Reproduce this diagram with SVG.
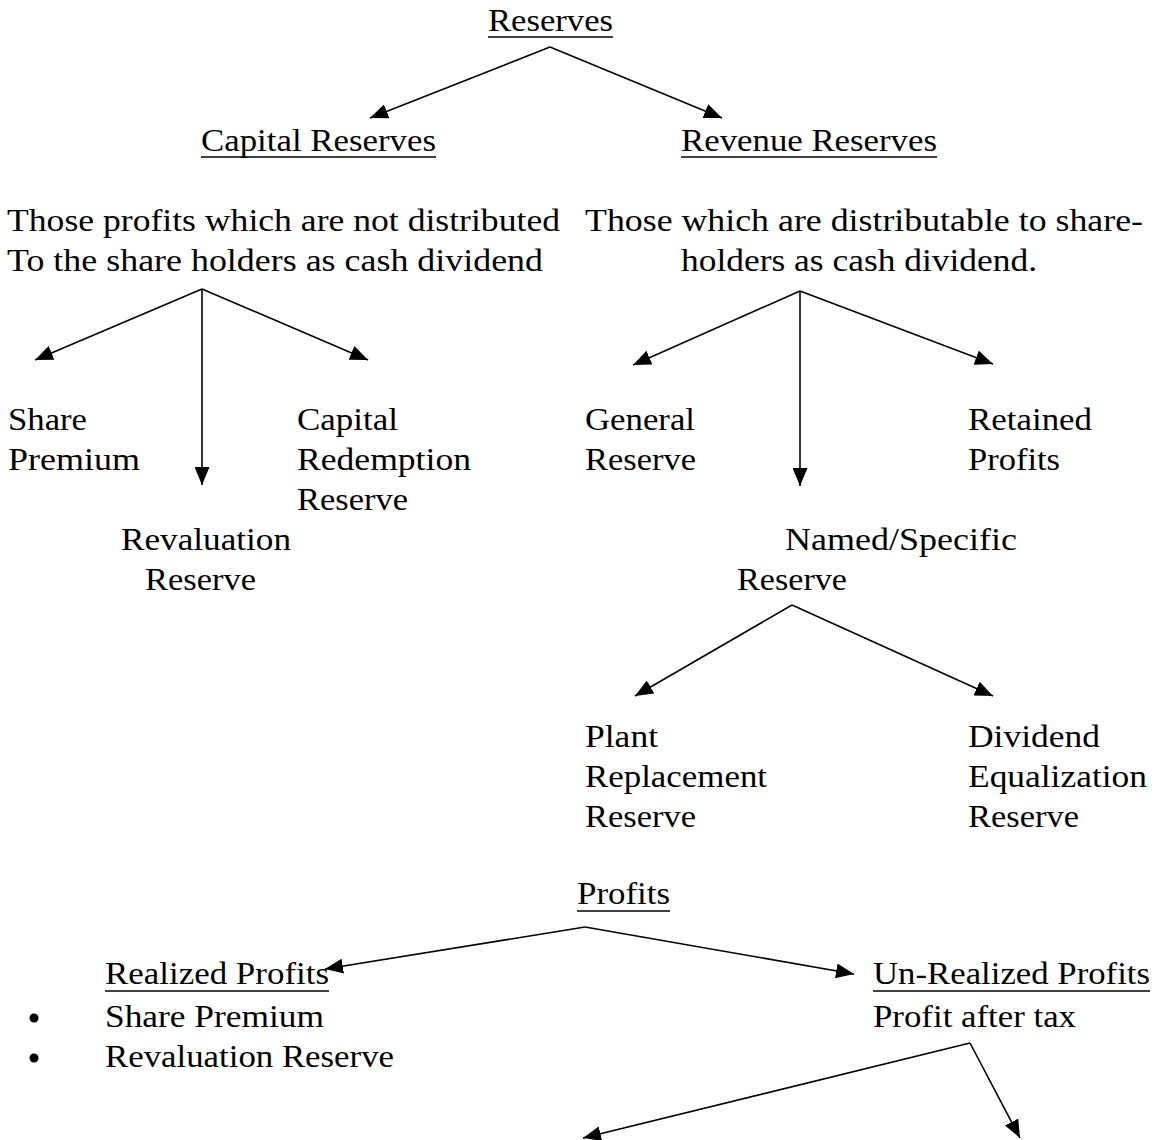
<svg xmlns="http://www.w3.org/2000/svg" width="1157" height="1140" viewBox="0 0 1157 1140">
<style>
text{font-family:"Liberation Serif","Times New Roman",serif;font-size:32px;fill:#000}
.c line{stroke:#000;stroke-width:1.6;fill:none}
.u{stroke:#000;stroke-width:1.6}
</style>
<defs>
<marker id="ah" markerUnits="userSpaceOnUse" markerWidth="19" markerHeight="15" refX="18" refY="7.5" orient="auto" viewBox="0 0 19 15">
<path d="M0,0 L18,7.5 L0,15 z" fill="#000"/>
</marker>
</defs>
<rect width="1157" height="1140" fill="#fff"/>
<g class="c" id="connectors">
<line x1="550" y1="47" x2="370" y2="118" marker-end="url(#ah)"/>
<line x1="550" y1="47" x2="722" y2="118" marker-end="url(#ah)"/>
<line x1="202" y1="289" x2="35" y2="360" marker-end="url(#ah)"/>
<line x1="202" y1="289" x2="202" y2="485" marker-end="url(#ah)"/>
<line x1="202" y1="289" x2="368" y2="360" marker-end="url(#ah)"/>
<line x1="800" y1="291" x2="633" y2="365" marker-end="url(#ah)"/>
<line x1="800" y1="291" x2="800" y2="486" marker-end="url(#ah)"/>
<line x1="800" y1="291" x2="993" y2="364" marker-end="url(#ah)"/>
<line x1="792" y1="605" x2="635" y2="696" marker-end="url(#ah)"/>
<line x1="792" y1="605" x2="993" y2="696" marker-end="url(#ah)"/>
<line x1="585" y1="927" x2="325" y2="969" marker-end="url(#ah)"/>
<line x1="585" y1="927" x2="854" y2="974" marker-end="url(#ah)"/>
<line x1="970" y1="1043" x2="583" y2="1138" marker-end="url(#ah)"/>
<line x1="970" y1="1043" x2="1020" y2="1138" marker-end="url(#ah)"/>
</g>
<g id="reserves"><text x="488" y="31" textLength="125" lengthAdjust="spacingAndGlyphs">Reserves</text><line class="u" x1="488" y1="37" x2="613" y2="37"/></g>
<g id="capital-reserves"><text x="201" y="151" textLength="235" lengthAdjust="spacingAndGlyphs">Capital Reserves</text><line class="u" x1="201" y1="157" x2="436" y2="157"/></g>
<g id="revenue-reserves"><text x="681" y="151" textLength="256" lengthAdjust="spacingAndGlyphs">Revenue Reserves</text><line class="u" x1="681" y1="157" x2="937" y2="157"/></g>
<g id="capital-desc"><text x="7" y="231" textLength="553" lengthAdjust="spacingAndGlyphs">Those profits which are not distributed</text><text x="7" y="271" textLength="536" lengthAdjust="spacingAndGlyphs">To the share holders as cash dividend</text></g>
<g id="revenue-desc"><text x="585" y="231" textLength="558" lengthAdjust="spacingAndGlyphs">Those which are distributable to share-</text><text x="681" y="271" textLength="356" lengthAdjust="spacingAndGlyphs">holders as cash dividend.</text></g>
<g id="share-premium"><text x="8" y="430" textLength="79" lengthAdjust="spacingAndGlyphs">Share</text><text x="8" y="470" textLength="132" lengthAdjust="spacingAndGlyphs">Premium</text></g>
<g id="capital-redemption"><text x="297" y="430" textLength="101" lengthAdjust="spacingAndGlyphs">Capital</text><text x="297" y="470" textLength="174" lengthAdjust="spacingAndGlyphs">Redemption</text><text x="297" y="510" textLength="111" lengthAdjust="spacingAndGlyphs">Reserve</text></g>
<g id="revaluation-reserve"><text x="121" y="550" textLength="170" lengthAdjust="spacingAndGlyphs">Revaluation</text><text x="145" y="590" textLength="111" lengthAdjust="spacingAndGlyphs">Reserve</text></g>
<g id="general-reserve"><text x="585" y="430" textLength="110" lengthAdjust="spacingAndGlyphs">General</text><text x="585" y="470" textLength="111" lengthAdjust="spacingAndGlyphs">Reserve</text></g>
<g id="retained-profits"><text x="968" y="430" textLength="124" lengthAdjust="spacingAndGlyphs">Retained</text><text x="968" y="470" textLength="92" lengthAdjust="spacingAndGlyphs">Profits</text></g>
<g id="named-specific"><text x="785" y="550" textLength="232" lengthAdjust="spacingAndGlyphs">Named/Specific</text><text x="737" y="590" textLength="110" lengthAdjust="spacingAndGlyphs">Reserve</text></g>
<g id="plant-replacement"><text x="585" y="747" textLength="73" lengthAdjust="spacingAndGlyphs">Plant</text><text x="585" y="787" textLength="182" lengthAdjust="spacingAndGlyphs">Replacement</text><text x="585" y="827" textLength="111" lengthAdjust="spacingAndGlyphs">Reserve</text></g>
<g id="dividend-equalization"><text x="968" y="747" textLength="132" lengthAdjust="spacingAndGlyphs">Dividend</text><text x="968" y="787" textLength="179" lengthAdjust="spacingAndGlyphs">Equalization</text><text x="968" y="827" textLength="111" lengthAdjust="spacingAndGlyphs">Reserve</text></g>
<g id="profits"><text x="577" y="904" textLength="93" lengthAdjust="spacingAndGlyphs">Profits</text><line class="u" x1="577" y1="911" x2="670" y2="911"/></g>
<g id="realized-profits"><text x="105" y="984" textLength="224" lengthAdjust="spacingAndGlyphs">Realized Profits</text><line class="u" x1="105" y1="991" x2="329" y2="991"/>
<circle cx="34" cy="1018" r="4.5" fill="#000"/><text x="105" y="1027" textLength="219" lengthAdjust="spacingAndGlyphs">Share Premium</text>
<circle cx="34" cy="1058" r="4.5" fill="#000"/><text x="105" y="1067" textLength="289" lengthAdjust="spacingAndGlyphs">Revaluation Reserve</text></g>
<g id="unrealized-profits"><text x="873" y="984" textLength="277" lengthAdjust="spacingAndGlyphs">Un-Realized Profits</text><line class="u" x1="873" y1="991" x2="1150" y2="991"/>
<text x="873" y="1027" textLength="203" lengthAdjust="spacingAndGlyphs">Profit after tax</text></g>
</svg>
